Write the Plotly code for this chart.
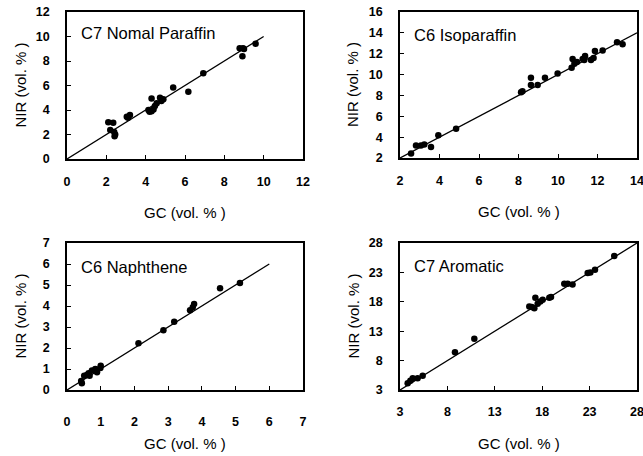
import plotly.graph_objects as go

# ---- data (GC vs NIR, vol. %) ----
p1_name = "C7 Nomal Paraffin"
p1_gc  = [2.1, 2.35, 2.2, 2.45, 2.4, 2.42, 3.04, 3.2, 3.1, 4.14, 4.2, 4.3, 4.3, 4.4, 4.47, 4.56, 4.73, 4.8, 4.9, 5.4, 6.17, 6.93, 8.78, 8.95, 9.0, 8.92, 9.59]
p1_nir = [3.0, 2.95, 2.36, 2.0, 2.2, 1.86, 3.45, 3.6, 3.37, 4.0, 3.86, 4.93, 3.9, 4.05, 4.33, 4.55, 5.0, 4.74, 4.88, 5.83, 5.48, 7.0, 9.04, 9.04, 8.98, 8.38, 9.4]
p1_line = [0, 10]

p2_name = "C6 Isoparaffin"
p2_gc  = [2.56, 2.81, 3.06, 3.23, 3.57, 3.94, 4.84, 8.13, 8.2, 8.63, 8.63, 8.97, 9.34, 9.98, 10.69, 10.74, 10.83, 10.96, 11.25, 11.37, 11.33, 11.67, 11.8, 11.87, 12.26, 12.99, 13.27]
p2_nir = [2.42, 3.2, 3.2, 3.3, 3.05, 4.17, 4.8, 8.3, 8.4, 9.7, 9.0, 9.0, 9.7, 10.1, 10.66, 11.5, 11.04, 11.2, 11.5, 11.78, 11.4, 11.4, 11.6, 12.25, 12.3, 13.1, 12.9]
p2_line = [2, 14]

p3_name = "C6 Naphthene"
p3_gc  = [0.42, 0.44, 0.51, 0.59, 0.64, 0.67, 0.74, 0.84, 0.89, 0.99, 1.0, 2.12, 2.86, 3.18, 3.65, 3.73, 3.77, 4.54, 5.13]
p3_nir = [0.43, 0.32, 0.68, 0.72, 0.8, 0.68, 0.93, 1.0, 0.85, 1.05, 1.16, 2.23, 2.85, 3.25, 3.8, 3.94, 4.1, 4.85, 5.1]
p3_line = [0, 6]

p4_name = "C7 Aromatic"
p4_gc  = [3.81, 4.09, 4.34, 4.86, 5.39, 8.8, 10.84, 16.64, 16.9, 17.17, 17.28, 17.52, 17.8, 18.05, 18.75, 18.93, 20.33, 20.69, 21.2, 22.8, 23.08, 23.57, 25.6]
p4_nir = [4.14, 4.59, 4.99, 4.99, 5.44, 9.4, 11.7, 17.2, 17.1, 16.9, 18.7, 17.66, 18.06, 18.34, 18.7, 18.8, 21.07, 21.07, 20.95, 22.9, 23.0, 23.45, 25.8]
p4_line = [3, 28]

p1_ticks = [0, 2, 4, 6, 8, 10, 12]
p1_yticks = [0, 2, 4, 6, 8, 10, 12]
p2_ticks = [2, 4, 6, 8, 10, 12, 14]
p2_yticks = [2, 4, 6, 8, 10, 12, 14, 16]
p3_ticks = [0, 1, 2, 3, 4, 5, 6, 7]
p3_yticks = [0, 1, 2, 3, 4, 5, 6, 7]
p4_ticks = [3, 8, 13, 18, 23, 28]
p4_yticks = [3, 8, 13, 18, 23, 28]

x_title = "GC (vol. % )"
y_title = "NIR (vol. % )"

W, H = 643, 456
FONT = "Liberation Sans, Arial, sans-serif"

panels = [
    dict(name=p1_name, gc=p1_gc, nir=p1_nir, line=p1_line, xt=p1_ticks, yt=p1_yticks,
         xr=[0, 12], yr=[0, 12], px=(67, 303), py=(12, 159), xso=10, lab=(79, 33)),
    dict(name=p2_name, gc=p2_gc, nir=p2_nir, line=p2_line, xt=p2_ticks, yt=p2_yticks,
         xr=[2, 14], yr=[2, 16], px=(400, 637), py=(12, 158), xso=10, lab=(412, 35)),
    dict(name=p3_name, gc=p3_gc, nir=p3_nir, line=p3_line, xt=p3_ticks, yt=p3_yticks,
         xr=[0, 7], yr=[0, 7], px=(67, 303), py=(243, 390), xso=19, lab=(79, 267)),
    dict(name=p4_name, gc=p4_gc, nir=p4_nir, line=p4_line, xt=p4_ticks, yt=p4_yticks,
         xr=[3, 28], yr=[3, 28], px=(400, 637), py=(243, 390), xso=9, lab=(412, 266)),
]

fig = go.Figure()
layout = dict(
    width=W, height=H, margin=dict(l=0, r=0, t=0, b=0, autoexpand=False),
    paper_bgcolor="white", plot_bgcolor="white", showlegend=False,
    font=dict(family=FONT, color="black", size=12),
)
annotations = []
for i, p in enumerate(panels, start=1):
    xa = "x" if i == 1 else f"x{i}"
    ya = "y" if i == 1 else f"y{i}"
    fig.add_trace(go.Scatter(x=p["line"], y=p["line"], mode="lines",
                             line=dict(color="black", width=1.3),
                             xaxis=xa, yaxis=ya, hoverinfo="skip"))
    fig.add_trace(go.Scatter(x=p["gc"], y=p["nir"], mode="markers",
                             marker=dict(color="black", size=6.5),
                             xaxis=xa, yaxis=ya))
    xd = [p["px"][0] / W, p["px"][1] / W]
    yd = [1 - p["py"][1] / H, 1 - p["py"][0] / H]
    common = dict(showline=True, linecolor="black", linewidth=1.6, mirror=True,
                  ticks="inside", ticklen=4, tickcolor="black", tickwidth=1.2,
                  showgrid=False, zeroline=False, automargin=False,
                  ticklabeloverflow="allow",
                  tickfont=dict(family=FONT, size=12.5, color="black", weight="bold"))
    layout[f"xaxis{'' if i == 1 else i}"] = dict(
        domain=xd, range=p["xr"], tickvals=p["xt"], anchor=ya,
        ticklabelstandoff=p["xso"], **common)
    layout[f"yaxis{'' if i == 1 else i}"] = dict(
        domain=yd, range=p["yr"], tickvals=p["yt"], anchor=xa,
        ticklabelstandoff=13, **common)
    annotations.append(dict(xref="paper", yref="paper",
                            x=p["lab"][0] / W, y=1 - p["lab"][1] / H,
                            xanchor="left", yanchor="middle", showarrow=False,
                            text=p["name"], font=dict(family=FONT, size=16.5, color="black")))
    annotations.append(dict(xref="paper", yref="paper",
                            x=(p["px"][0] + p["px"][1]) / 2 / W,
                            y=1 - (p["py"][1] + 53) / H,
                            xanchor="center", yanchor="middle", showarrow=False,
                            text=x_title, font=dict(family=FONT, size=15, color="black")))
    annotations.append(dict(xref="paper", yref="paper",
                            x=(p["px"][0] - 47) / W,
                            y=1 - (p["py"][0] + p["py"][1]) / 2 / H,
                            xanchor="center", yanchor="middle", showarrow=False, textangle=-90,
                            text=y_title, font=dict(family=FONT, size=15, color="black")))
layout["annotations"] = annotations
fig.update_layout(**layout)
fig.write_html("out.html", config={"displayModeBar": False},
               post_script="document.body.style.margin='0';document.body.style.overflow='hidden';")
